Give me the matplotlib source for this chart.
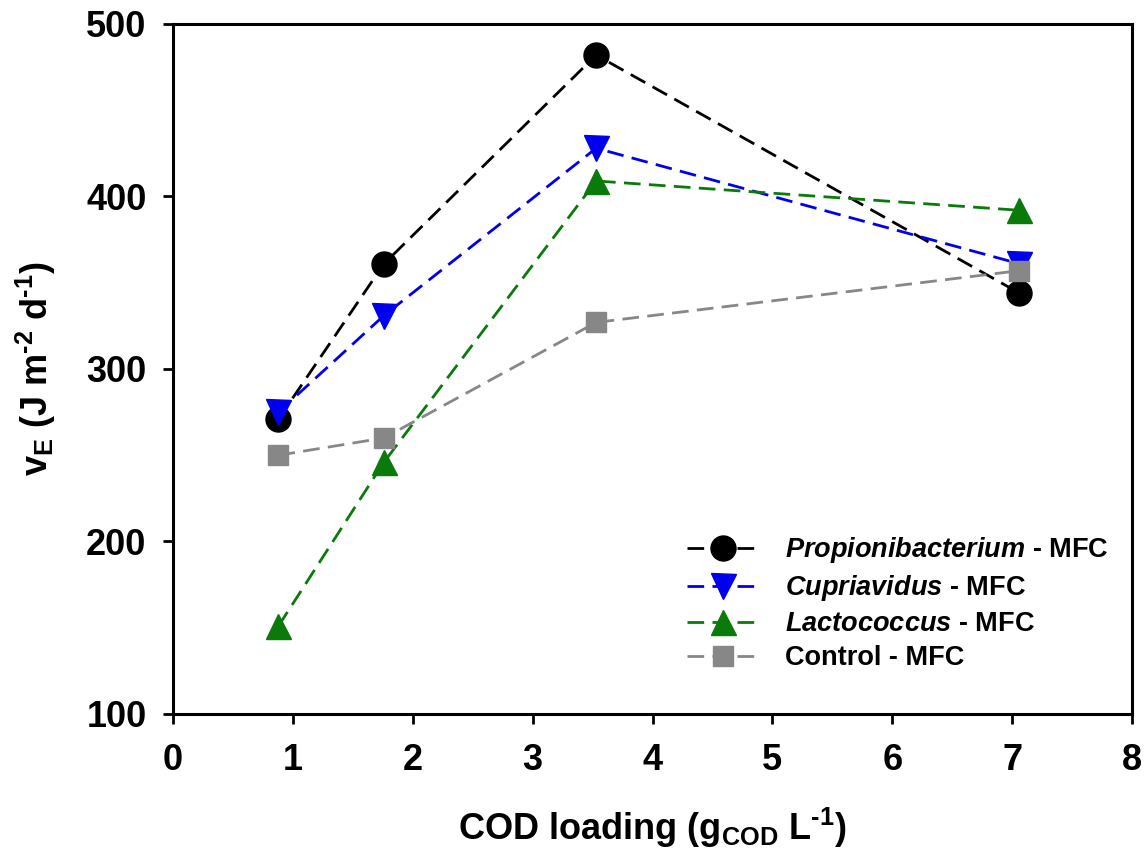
import numpy as np
import matplotlib
matplotlib.use("Agg")
import matplotlib.pyplot as plt


plt.rcParams["font.family"] = ["Liberation Sans", "DejaVu Sans"]
plt.rcParams["font.weight"] = "bold"
plt.rcParams["mathtext.fontset"] = "custom"
plt.rcParams["mathtext.rm"] = "Liberation Sans:bold"
plt.rcParams["mathtext.it"] = "Liberation Sans:italic:bold"
plt.rcParams["mathtext.bf"] = "Liberation Sans:bold"
plt.rcParams["mathtext.default"] = "rm"
plt.rcParams["axes.unicode_minus"] = False

# COD loading (g_COD / L)
cod_loading = [0.88, 1.76, 3.53, 7.06]

# energy rate values
propionibacterium = [271, 361, 482, 344]
cupriavidus = [275, 331, 428, 361]
lactococcus = [151, 246, 409, 392]
control = [250, 260, 327, 357]

labels = [
    r"$\mathit{Propionibacterium}$ - MFC",
    r"$\mathit{Cupriavidus}$ - MFC",
    r"$\mathit{Lactococcus}$ - MFC",
    "Control - MFC",
]

x_ticks = [0, 1, 2, 3, 4, 5, 6, 7, 8]
y_ticks = [100, 200, 300, 400, 500]

fig = plt.figure(figsize=(11.47, 8.57), dpi=100)
ax = fig.add_axes([0.1508, 0.1669, 0.8362, 0.8051])

dash = (0, (6, 3))
series = [
    (propionibacterium, "black", "o", 18),
    (cupriavidus, "#0000ee", "v", 18),
    (lactococcus, "#0a7a0a", "^", 18),
    (control, "#878787", "s", 15),
]

for (vals, color, marker, ms), label in zip(series, labels):
    ax.plot(cod_loading, vals, color=color, linestyle=dash, linewidth=2,
            marker=marker, markersize=ms, markerfacecolor=color,
            markeredgecolor=color, label=label)

ax.set_xlim(0, 8)
ax.set_ylim(100, 500)
ax.set_xticks(x_ticks)
ax.set_yticks(y_ticks)

for spine in ax.spines.values():
    spine.set_linewidth(2.2)

ax.tick_params(axis="x", direction="out", length=7, width=2, labelsize=26, pad=14)
ax.tick_params(axis="y", direction="out", length=7, width=2, labelsize=26, pad=12)
for lab in ax.get_xticklabels() + ax.get_yticklabels():
    lab.set_fontweight("bold")

ax.set_xlabel(r"COD loading (g$_{\mathrm{COD}}$ L$^{\text{-1}}$)", fontsize=26, fontweight="bold", labelpad=20)
ax.set_ylabel(r"v$_{\mathrm{E}}$ (J m$^{\text{-2}}$ d$^{\text{-1}}$)", fontsize=26, fontweight="bold", labelpad=20)

leg = ax.legend(loc="upper left", bbox_to_anchor=(0.525, 0.275), frameon=False,
                fontsize=19.5, handlelength=2.6, handletextpad=1.0, labelspacing=0.3,
                borderaxespad=0)
for t in leg.get_texts():
    t.set_fontweight("bold")

fig.savefig("out.png", dpi=100)
